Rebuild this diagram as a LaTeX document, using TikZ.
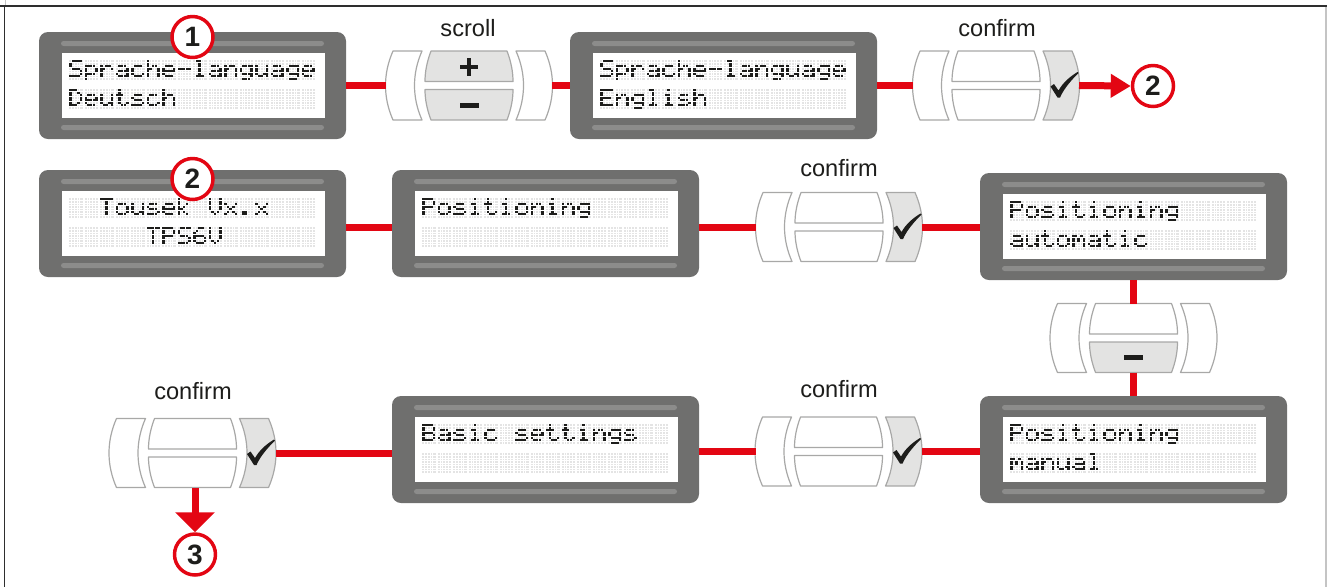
\documentclass[tikz,border=0pt]{standalone}
\usepackage{fontspec}
\setmainfont{Liberation Sans}
\usetikzlibrary{arrows.meta}
\definecolor{redc}{HTML}{E30613}
\definecolor{lcdgray}{HTML}{6F6F6E}
\definecolor{stripc}{HTML}{8C8C8B}
\definecolor{cellc}{HTML}{E4E4E4}
\definecolor{dotc}{HTML}{1D1D1B}
\definecolor{btngray}{HTML}{E3E3E2}
\definecolor{edgegray}{HTML}{A8A8A7}
\definecolor{framec}{HTML}{2E2E2E}
\definecolor{lightframe}{HTML}{C4C4C4}
\tikzset{
 lcdbody/.style={rectangle, fill=lcdgray, rounded corners=6.75pt, minimum width=230.25pt, minimum height=80.25pt, inner sep=0pt, outer sep=0pt},
 grp/.style={rectangle, minimum width=124.5pt, minimum height=51.75pt, inner sep=0pt, outer sep=0pt},
 redline/.style={draw=redc, line width=5.25pt},
 btnline/.style={draw=edgegray, line width=0.9pt, line join=round},
 numc/.style={circle, draw=redc, line width=2.6pt, fill=white, minimum size=30.75pt, inner sep=0pt, font=\fontsize{21pt}{24pt}\selectfont\bfseries, text=dotc},
 lbl/.style={anchor=base, font=\fontsize{17.7pt}{20pt}\selectfont, text=dotc, inner sep=0pt},
 cellgrid/.style={draw=white, line width=0.35pt},
}
% ---- dot-matrix glyphs ----
\newcommand\lcdgdot[3]{\ifnum#3=1 \fill[dotc] ({\lcdox+#2*2.7},{\lcdoy+#1*2.5}) rectangle ++(2.5,2.3);\fi}
\def\lcdrowA#1#2#3#4#5#6{\lcdgdot{#1}{0}{#2}\lcdgdot{#1}{1}{#3}\lcdgdot{#1}{2}{#4}\lcdgdot{#1}{3}{#5}\lcdgdot{#1}{4}{#6}}
\newcommand\lcdrow[2]{\lcdrowA{#1}#2}
\newcommand\lcdglyph[8]{\lcdrow{0}{#1}\lcdrow{1}{#2}\lcdrow{2}{#3}\lcdrow{3}{#4}\lcdrow{4}{#5}\lcdrow{5}{#6}\lcdrow{6}{#7}\lcdrow{7}{#8}}
\newcommand\defglyph[9]{\expandafter\def\csname lg@#1\endcsname{\lcdglyph{#2}{#3}{#4}{#5}{#6}{#7}{#8}{#9}}}
\defglyph{S}{01111}{10000}{10000}{01110}{00001}{00001}{11110}{00000}
\defglyph{p}{00000}{00000}{11110}{10001}{10001}{11110}{10000}{10000}
\defglyph{r}{00000}{00000}{10110}{11001}{10000}{10000}{10000}{00000}
\defglyph{a}{00000}{00000}{01110}{00001}{01111}{10001}{01111}{00000}
\defglyph{c}{00000}{00000}{01110}{10000}{10000}{10001}{01110}{00000}
\defglyph{h}{10000}{10000}{10110}{11001}{10001}{10001}{10001}{00000}
\defglyph{e}{00000}{00000}{01110}{10001}{11111}{10000}{01110}{00000}
\defglyph{-}{00000}{00000}{00000}{11111}{00000}{00000}{00000}{00000}
\defglyph{l}{01100}{00100}{00100}{00100}{00100}{00100}{01110}{00000}
\defglyph{n}{00000}{00000}{10110}{11001}{10001}{10001}{10001}{00000}
\defglyph{g}{00000}{00000}{01111}{10001}{10001}{01111}{00001}{01110}
\defglyph{u}{00000}{00000}{10001}{10001}{10001}{10011}{01101}{00000}
\defglyph{D}{11100}{10010}{10001}{10001}{10001}{10010}{11100}{00000}
\defglyph{t}{01000}{01000}{11100}{01000}{01000}{01001}{00110}{00000}
\defglyph{s}{00000}{00000}{01110}{10000}{01110}{00001}{11110}{00000}
\defglyph{E}{11111}{10000}{10000}{11110}{10000}{10000}{11111}{00000}
\defglyph{i}{00100}{00000}{01100}{00100}{00100}{00100}{01110}{00000}
\defglyph{T}{11111}{00100}{00100}{00100}{00100}{00100}{00100}{00000}
\defglyph{o}{00000}{00000}{01110}{10001}{10001}{10001}{01110}{00000}
\defglyph{k}{10000}{10000}{10010}{10100}{11000}{10100}{10010}{00000}
\defglyph{V}{10001}{10001}{10001}{10001}{10001}{01010}{00100}{00000}
\defglyph{x}{00000}{00000}{10001}{01010}{00100}{01010}{10001}{00000}
\defglyph{.}{00000}{00000}{00000}{00000}{00000}{01100}{01100}{00000}
\defglyph{6}{00110}{01000}{10000}{11110}{10001}{10001}{01110}{00000}
\defglyph{P}{11110}{10001}{10001}{11110}{10000}{10000}{10000}{00000}
\defglyph{m}{00000}{00000}{11010}{10101}{10101}{10001}{10001}{00000}
\defglyph{B}{11110}{10001}{10001}{11110}{10001}{10001}{11110}{00000}
\defglyph{_}{00000}{00000}{00000}{00000}{00000}{00000}{00000}{00000}
\newcommand\lcdline[3]{\foreach \lcdch [count=\lcdci from 0] in {#3} {\pgfmathsetmacro\lcdox{#1+15.5*\lcdci}\edef\lcdoy{#2}\csname lg@\lcdch\endcsname}}
\newcommand\lcdcells[2]{%
 \foreach \rr in {0,1} {%
  \foreach \ii in {0,...,15} {%
   \fill[cellc] ({#1+15.5*\ii},{#2+29*\rr}) rectangle ++(13.5,20);
   \foreach \jj in {1,...,4} {\draw[cellgrid] ({#1+15.5*\ii+\jj*2.7-0.2},{#2+29*\rr}) -- ++(0,20);}
  }%
  \foreach \kk in {1,...,7} {\draw[cellgrid] ({#1},{#2+29*\rr+\kk*2.5-0.2}) -- ++(246,0);}
 }}
\newcommand\lcd[5]{%
 \node[lcdbody] (#1) at ({#2+153.5},{#3+53.5}) {};
 \fill[stripc, rounded corners=1.9pt] ({#2+22},{#3+9}) rectangle ({#2+285},{#3+14});
 \fill[stripc, rounded corners=1.9pt] ({#2+22},{#3+93}) rectangle ({#2+285},{#3+98});
 \fill[white] ({#2+23},{#3+21}) rectangle ({#2+286},{#3+86});
 \lcdcells{#2+30}{#3+28}%
 \lcdline{#2+30}{#3+28}{#4}%
 \lcdline{#2+30}{#3+57}{#5}%
}
\newcommand\btngroup[4]{%
 \node[grp] (#1) at (#2,#3) {};
 \begin{scope}[shift={(#2,#3)}]
  \def\bgU{white}\def\bgD{white}\def\bgR{white}%
  \ifcase#4\relax \def\bgU{btngray}\def\bgD{btngray}\or \def\bgR{btngray}\or \def\bgD{btngray}\fi
  \path[btnline, fill=white] (-76,-34.5) -- (-47,-34.5) .. controls (-57,-12) and (-57,12) .. (-47,34.5) -- (-76,34.5) .. controls (-86,12) and (-86,-12) .. (-76,-34.5) -- cycle;
  \path[btnline, fill=\bgR] (76,-34.5) -- (47,-34.5) .. controls (57,-12) and (57,12) .. (47,34.5) -- (76,34.5) .. controls (86,12) and (86,-12) .. (76,-34.5) -- cycle;
  \path[btnline, fill=\bgU] (-38,-34.5) -- (38,-34.5) .. controls (42,-24) and (44,-14) .. (44,-4) -- (-44,-4) .. controls (-44,-14) and (-42,-24) .. (-38,-34.5) -- cycle;
  \path[btnline, fill=\bgD] (-44,4) -- (44,4) .. controls (44,14) and (42,24) .. (38,34.5) -- (-38,34.5) .. controls (-42,24) and (-44,14) .. (-44,4) -- cycle;
  \ifcase#4\relax
   \draw[line width=2.7pt, draw=dotc] (-9,-18.5) -- (9,-18.5) (0,-27.5) -- (0,-9.5);
   \fill[dotc] (-9.5,17) rectangle (9.5,22);
  \or
   \fill[dotc] (54.5,1) -- (58,-1.5) -- (62.5,5) .. controls (67,-3) and (74,-9) .. (81.5,-13.5) -- (82.5,-12.5) .. controls (75,-5) and (68,3) .. (64,12) -- (61.5,12) -- cycle;
  \or
   \fill[dotc] (-9.5,17) rectangle (9.5,22);
  \fi
 \end{scope}}
\begin{document}
\begin{tikzpicture}[x=0.75pt, y=-0.75pt]
\useasboundingbox (0,0) rectangle (1327,587);
% frame
\draw[framec, line width=1.5pt] (0,5.5) -- (1327,5.5);
\draw[framec, line width=1.2pt] (4.5,5.5) -- (4.5,587);
\draw[lightframe, line width=0.9pt] (5.5,0) -- (5.5,5);
\draw[lightframe, line width=0.9pt] (1326,6.5) -- (1326,587);
% row 1
\lcd{lcdA}{39}{32}{S,p,r,a,c,h,e,-,l,a,n,g,u,a,g,e}{D,e,u,t,s,c,h}
\lcd{lcdB}{570}{32}{S,p,r,a,c,h,e,-,l,a,n,g,u,a,g,e}{E,n,g,l,i,s,h}
\btngroup{scr}{469}{85.5}{0}
\btngroup{cfA}{996}{85.5}{1}
\node[numc] (cA) at (192.5,37) {1};
\node[numc] (cB) at (1153,86) {2};
\node[lbl] (lscr) at (468,36) {scroll};
\node[lbl] (lcfA) at (997,36) {confirm};
\draw[redline] (lcdA.east) -- (scr.west);
\draw[redline] (scr.east) -- (lcdB.west);
\draw[redline] (lcdB.east) -- (cfA.west);
\draw[redline, -{Triangle[length=15pt,width=17pt]}] (cfA.east) -- (cB.west);
% row 2
\lcd{lcdC}{39}{170}{_,_,T,o,u,s,e,k,_,V,x,.,x}{_,_,_,_,_,T,P,S,6,V}
\lcd{lcdD}{392}{170}{P,o,s,i,t,i,o,n,i,n,g}{_}
\lcd{lcdE}{980}{173}{P,o,s,i,t,i,o,n,i,n,g}{a,u,t,o,m,a,t,i,c}
\btngroup{cfB}{839}{227}{1}
\node[numc] (cC) at (192.5,179) {2};
\node[lbl] (lcfB) at (839,176.5) {confirm};
\draw[redline] (lcdC.east |- cfB.west) -- (lcdD.west |- cfB.west);
\draw[redline] (lcdD.east |- cfB.west) -- (cfB.west);
\draw[redline] (cfB.east) -- (lcdE.west |- cfB.east);
% vertical minus
\btngroup{mns}{1133.5}{338}{2}
\lcd{lcdF}{980}{396}{P,o,s,i,t,i,o,n,i,n,g}{m,a,n,u,a,l}
\draw[redline] (lcdE.south) -- (mns.north);
\draw[redline] (mns.south) -- (lcdF.north);
% row 3
\lcd{lcdG}{392}{396}{B,a,s,i,c,_,s,e,t,t,i,n,g,s}{_}
\btngroup{cfC}{838.5}{451.5}{1}
\btngroup{cfD}{192.5}{453}{1}
\node[lbl] (lcfC) at (839,397) {confirm};
\node[lbl] (lcfD) at (193,399) {confirm};
\node[numc] (cD) at (195,554.5) {3};
\draw[redline] (lcdF.west |- cfC.east) -- (cfC.east);
\draw[redline] (cfC.west) -- (lcdG.east |- cfC.west);
\draw[redline] (lcdG.west |- cfD.east) -- (cfD.east);
\draw[redline, -{Triangle[length=15pt,width=29pt]}] (cfD.south -| cD.north) -- (cD.north);
\end{tikzpicture}
\end{document}
